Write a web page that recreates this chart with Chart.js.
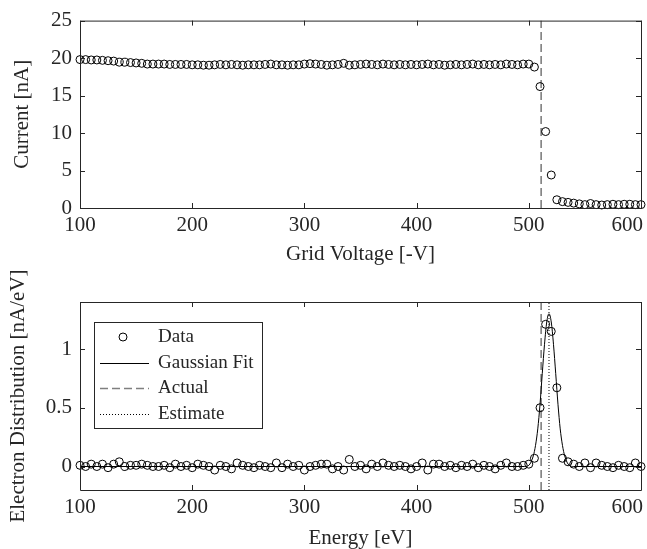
<!DOCTYPE html>
<html>
<head>
<meta charset="utf-8">
<script src="https://cdn.jsdelivr.net/npm/chart.js@4"></script>
<style>
  html, body { margin: 0; padding: 0; background: #fff; }
  canvas { position: absolute; left: 0; }
  #oben { top: 0; }
  #unten { top: 270px; }
</style>
</head>
<body>
<canvas id="oben" width="647" height="270" style="width:647px;height:270px"></canvas>
<canvas id="unten" width="647" height="279" style="width:647px;height:279px"></canvas>
<script>
// Gitterspannung [-V] bzw. Energie [eV]
const spannungen = [
  100, 105, 110, 115, 120, 125, 130, 135, 140, 145,
  150, 155, 160, 165, 170, 175, 180, 185, 190, 195,
  200, 205, 210, 215, 220, 225, 230, 235, 240, 245,
  250, 255, 260, 265, 270, 275, 280, 285, 290, 295,
  300, 305, 310, 315, 320, 325, 330, 335, 340, 345,
  350, 355, 360, 365, 370, 375, 380, 385, 390, 395,
  400, 405, 410, 415, 420, 425, 430, 435, 440, 445,
  450, 455, 460, 465, 470, 475, 480, 485, 490, 495,
  500, 505, 510, 515, 520, 525, 530, 535, 540, 545,
  550, 555, 560, 565, 570, 575, 580, 585, 590, 595,
  600
];
// Strom [nA]
const strom = [
  19.8, 19.8, 19.75, 19.75, 19.7, 19.65, 19.6, 19.45, 19.45, 19.4,
  19.35, 19.3, 19.2, 19.2, 19.2, 19.2, 19.15, 19.15, 19.15, 19.15,
  19.1, 19.1, 19.05, 19.05, 19.1, 19.15, 19.1, 19.15, 19.1, 19.05,
  19.1, 19.1, 19.1, 19.15, 19.2, 19.1, 19.1, 19.05, 19.1, 19.1,
  19.2, 19.25, 19.2, 19.15, 19.05, 19.1, 19.15, 19.3, 19.05, 19.1,
  19.15, 19.2, 19.15, 19.1, 19.2, 19.15, 19.1, 19.15, 19.1, 19.15,
  19.1, 19.15, 19.2, 19.1, 19.15, 19.05, 19.1, 19.15, 19.1, 19.15,
  19.2, 19.1, 19.15, 19.1, 19.15, 19.1, 19.2, 19.15, 19.1, 19.2,
  19.2, 18.8, 16.2, 10.2, 4.4, 1.1, 0.85, 0.75, 0.65, 0.55,
  0.45, 0.6, 0.45, 0.4, 0.45, 0.5, 0.45, 0.5, 0.5, 0.45,
  0.45
];
// Elektronenverteilung [nA/eV]
const verteilung = [
  0.01, 0.0, 0.02, 0.0, 0.02, -0.01, 0.02, 0.04, 0.0, 0.01,
  0.01, 0.02, 0.01, 0.0, 0.0, 0.01, -0.01, 0.02, 0.0, 0.01,
  -0.01, 0.02, 0.01, 0.0, -0.03, 0.01, 0.0, -0.02, 0.03, 0.01,
  0.0, -0.01, 0.01, 0.0, -0.01, 0.03, -0.01, 0.02, 0.0, 0.01,
  -0.03, 0.0, 0.01, 0.02, 0.02, -0.02, 0.0, -0.03, 0.06, 0.0,
  0.01, -0.02, 0.02, 0.0, 0.03, 0.01, 0.0, 0.01, 0.0, -0.02,
  0.0, 0.03, -0.03, 0.02, 0.02, 0.0, 0.01, -0.01, 0.01, 0.0,
  0.02, -0.01, 0.01, 0.0, -0.02, 0.01, 0.03, 0.0, 0.0, 0.01,
  0.02, 0.07, 0.5, 1.21, 1.15, 0.67, 0.07, 0.04, 0.02, 0.0,
  0.03, -0.01, 0.03, 0.01, 0.0, -0.01, 0.01, 0.0, -0.01, 0.03,
  0.0
];
// Gauss-Fit
const fitEnergie = [100, 496, 500, 504, 506, 508, 510, 512, 514, 516, 518, 520, 522, 524, 526, 528, 530, 532, 536, 540, 600];
const fitWerte = [0, 0, 0.01, 0.09, 0.18, 0.32, 0.53, 0.79, 1.04, 1.23, 1.3, 1.23, 1.04, 0.79, 0.53, 0.32, 0.18, 0.09, 0.01, 0, 0];
const energieTatsaechlich = 511;
const energieGeschaetzt = 518;

const xTicks = [100, 200, 300, 400, 500, 600];
const yTicksOben = [0, 5, 10, 15, 20, 25];
const yTicksUnten = [0, 0.5, 1];

const achsenFarbe = '#262626';
const schrift = "'Liberation Serif', 'Times New Roman', serif";
Chart.defaults.font.family = schrift;
Chart.defaults.color = achsenFarbe;

const punkte = (xs, ys) => xs.map((x, i) => ({ x: x, y: ys[i] }));

// Rahmen, innenliegende Striche und x-Beschriftung im MATLAB-Stil
const achsenRahmen = {
  id: 'achsenRahmen',
  afterDatasetsDraw(chart) {
    const { ctx, chartArea: a, scales: { x, y } } = chart;
    ctx.save();
    ctx.strokeStyle = achsenFarbe;
    ctx.lineWidth = 1;
    ctx.beginPath();
    ctx.rect(a.left + 0.5, a.top + 0.5, a.right - a.left, a.bottom - a.top);
    x.ticks.forEach(t => {
      const px = Math.round(x.getPixelForValue(t.value)) + 0.5;
      ctx.moveTo(px, a.bottom); ctx.lineTo(px, a.bottom - 5);
      ctx.moveTo(px, a.top); ctx.lineTo(px, a.top + 5);
    });
    y.ticks.forEach(t => {
      const py = Math.round(y.getPixelForValue(t.value)) + 0.5;
      ctx.moveTo(a.left, py); ctx.lineTo(a.left + 5, py);
      ctx.moveTo(a.right, py); ctx.lineTo(a.right - 5, py);
    });
    ctx.stroke();

    ctx.fillStyle = achsenFarbe;
    ctx.font = '21px ' + schrift;
    ctx.textBaseline = 'middle';
    x.ticks.forEach(t => {
      const text = String(t.value);
      const px = x.getPixelForValue(t.value);
      const w = ctx.measureText(text).width;
      if (px + w / 2 > chart.width - 2) {
        ctx.textAlign = 'right';
        ctx.fillText(text, chart.width - 4, a.bottom + 17);
      } else {
        ctx.textAlign = 'center';
        ctx.fillText(text, px, a.bottom + 17);
      }
    });
    ctx.restore();
  }
};

// Legende innerhalb der Achsen
const legendeInnen = {
  id: 'legendeInnen',
  afterDraw(chart) {
    if (!chart.options.plugins.legendeInnen) return;
    const { ctx, chartArea: a } = chart;
    const lx = a.left + 14, ly = a.top + 20, lw = 168, lh = 106;
    ctx.save();
    ctx.fillStyle = '#fff';
    ctx.fillRect(lx, ly, lw, lh);
    ctx.strokeStyle = achsenFarbe;
    ctx.lineWidth = 1;
    ctx.strokeRect(lx + 0.5, ly + 0.5, lw, lh);
    ctx.font = '19px ' + schrift;
    ctx.textBaseline = 'middle';
    ctx.textAlign = 'left';
    chart.data.datasets.forEach((ds, i) => {
      const yy = ly + 15 + i * 25.7;
      ctx.strokeStyle = ds.borderColor;
      ctx.lineWidth = ds.borderWidth;
      ctx.setLineDash(ds.borderDash || []);
      ctx.beginPath();
      if (ds.showLine === false) {
        ctx.arc(lx + 29, yy, 4, 0, Math.PI * 2);
      } else {
        ctx.moveTo(lx + 6, Math.round(yy) + 0.5);
        ctx.lineTo(lx + 55, Math.round(yy) + 0.5);
      }
      ctx.stroke();
      ctx.setLineDash([]);
      ctx.fillStyle = achsenFarbe;
      ctx.fillText(ds.label, lx + 64, yy);
    });
    ctx.restore();
  }
};

function achsen(yMin, yMax, yTicks, yTitel, yTitelAbstand, xTitel, xTitelAbstand, xHoehe) {
  return {
    x: {
      type: 'linear', min: 100, max: 600,
      afterBuildTicks: s => { s.ticks = xTicks.map(v => ({ value: v })); },
      afterFit: s => { s.height = xHoehe; s.paddingLeft = 0; s.paddingRight = 0; },
      grid: { display: false },
      border: { display: false },
      ticks: { display: false },
      title: { display: true, text: xTitel, font: { size: 21, lineHeight: 1 }, padding: { top: 0, bottom: xTitelAbstand } }
    },
    y: {
      type: 'linear', min: yMin, max: yMax,
      afterBuildTicks: s => { s.ticks = yTicks.map(v => ({ value: v })); },
      afterFit: s => { s.width = 80; },
      grid: { display: false, drawTicks: false },
      border: { display: false },
      ticks: { font: { size: 21 }, padding: 8, callback: v => String(v) },
      title: { display: true, text: yTitel, font: { size: 21, lineHeight: 1 }, padding: { top: yTitelAbstand, bottom: 0 } }
    }
  };
}

const grundOptionen = {
  responsive: false,
  animation: false,
  events: [],
  plugins: { legend: { display: false }, tooltip: { enabled: false } }
};

new Chart(document.getElementById('oben').getContext('2d'), {
  type: 'scatter',
  data: {
    datasets: [{
      label: 'Data',
      data: punkte(spannungen, strom),
      showLine: false,
      pointStyle: 'circle', pointRadius: 4,
      borderColor: '#000', backgroundColor: 'rgba(0,0,0,0)', borderWidth: 1,
      clip: false
    }, {
      label: 'Actual',
      data: [{ x: energieTatsaechlich, y: 0 }, { x: energieTatsaechlich, y: 25 }],
      showLine: true, pointRadius: 0,
      borderColor: '#7f7f7f', borderWidth: 1.6, borderDash: [8, 4]
    }]
  },
  options: Object.assign({}, grundOptionen, {
    layout: { padding: { left: 0, right: 6, top: 19, bottom: 0 } },
    scales: achsen(0, 25, yTicksOben, 'Current [nA]', 11.5, 'Grid Voltage [-V]', 5.5, 62)
  }),
  plugins: [achsenRahmen]
});

new Chart(document.getElementById('unten').getContext('2d'), {
  type: 'scatter',
  data: {
    datasets: [{
      label: 'Data',
      data: punkte(spannungen, verteilung),
      showLine: false,
      pointStyle: 'circle', pointRadius: 4,
      borderColor: '#000', backgroundColor: 'rgba(0,0,0,0)', borderWidth: 1,
      clip: false
    }, {
      label: 'Gaussian Fit',
      data: punkte(fitEnergie, fitWerte),
      showLine: true, pointRadius: 0,
      borderColor: '#000', borderWidth: 1,
      cubicInterpolationMode: 'monotone'
    }, {
      label: 'Actual',
      data: [{ x: energieTatsaechlich, y: -0.2 }, { x: energieTatsaechlich, y: 1.4 }],
      showLine: true, pointRadius: 0,
      borderColor: '#7f7f7f', borderWidth: 1.6, borderDash: [8, 4]
    }, {
      label: 'Estimate',
      data: [{ x: energieGeschaetzt, y: -0.2 }, { x: energieGeschaetzt, y: 1.4 }],
      showLine: true, pointRadius: 0,
      borderColor: '#000', borderWidth: 1, borderDash: [1, 2]
    }]
  },
  options: Object.assign({}, grundOptionen, {
    layout: { padding: { left: 0, right: 6, top: 32, bottom: 0 } },
    plugins: { legend: { display: false }, tooltip: { enabled: false }, legendeInnen: true },
    scales: achsen(-0.2, 1.4, yTicksUnten, 'Electron Distribution [nA/eV]', 7.5, 'Energy [eV]', 0, 59)
  }),
  plugins: [achsenRahmen, legendeInnen]
});
</script>
</body>
</html>
